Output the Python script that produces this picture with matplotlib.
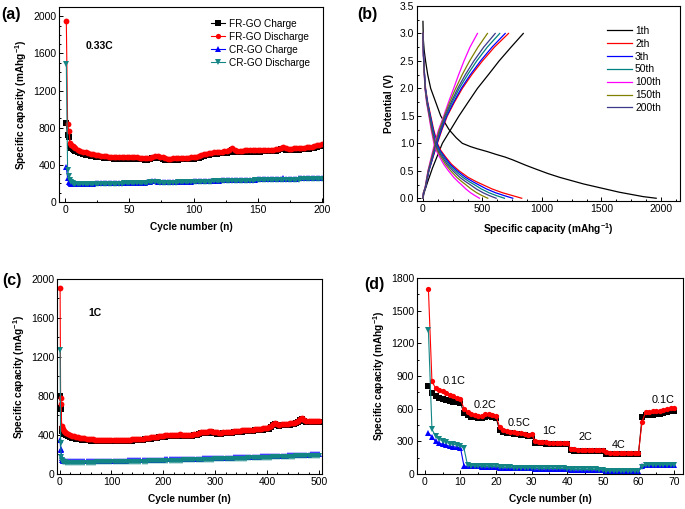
import matplotlib
matplotlib.use("Agg")
import matplotlib.pyplot as plt
from matplotlib.ticker import MultipleLocator, FormatStrFormatter

plt.rcParams['font.family'] = ['Liberation Sans', 'DejaVu Sans']
plt.rcParams['mathtext.fontset'] = 'custom'
plt.rcParams['mathtext.rm'] = 'Liberation Sans'
plt.rcParams['mathtext.bf'] = 'Liberation Sans:bold'

# ---------------- (a) 0.33C cycling ----------------
cycles_a = [1, 2, 3, 4, 5, 6, 7, 8] + list(range(10, 201, 2))
fr_dis_a = [1950, 835, 760, 640, 612, 598, 588, 578,
            565, 552, 542, 534, 527, 520, 514, 509, 504, 500,
            496, 493, 490, 488, 486, 484, 483, 482, 483, 485,
            486, 484, 482, 480, 478, 476, 474, 473, 478, 490,
            495, 492, 488, 484, 475, 468, 468, 470, 472, 473,
            475, 476, 476, 478, 480, 482, 488, 495, 505, 512,
            520, 528, 532, 535, 537, 540, 542, 545, 548, 560,
            578, 560, 552, 552, 553, 555, 556, 557, 558, 560,
            560, 560, 561, 562, 563, 564, 565, 567, 572, 586,
            590, 580, 575, 576, 578, 580, 582, 584, 586, 588,
            590, 595, 602, 610, 618, 622]
fr_chg_a = [850, 718, 705, 600, 580, 566, 556, 548,
            538, 526, 517, 510, 503, 497, 492, 488, 484, 480,
            477, 474, 472, 470, 468, 466, 465, 464, 465, 467,
            468, 466, 464, 462, 460, 458, 456, 455, 460, 472,
            477, 474, 470, 466, 457, 451, 451, 453, 455, 456,
            458, 459, 459, 461, 463, 465, 471, 478, 488, 495,
            503, 511, 515, 518, 520, 523, 525, 528, 531, 543,
            560, 543, 535, 535, 536, 538, 539, 540, 541, 543,
            543, 543, 544, 545, 546, 547, 548, 550, 555, 568,
            572, 563, 558, 559, 561, 563, 565, 567, 569, 571,
            573, 578, 585, 592, 600, 604]
cr_chg_a = [380, 255, 215, 200, 198, 197, 196, 196,
            196, 197, 197, 198, 198, 199, 199, 200, 200, 201,
            201, 202, 202, 203, 203, 204, 204, 205, 205, 206,
            207, 207, 208, 208, 209, 209, 210, 212, 218, 226,
            222, 218, 215, 214, 214, 215, 215, 216, 216, 217,
            218, 218, 219, 220, 220, 221, 222, 223, 224, 225,
            226, 227, 228, 229, 230, 231, 232, 233, 234, 235,
            236, 236, 237, 238, 238, 239, 240, 240, 241, 242,
            243, 243, 244, 245, 245, 246, 247, 248, 249, 252,
            254, 252, 251, 252, 253, 253, 254, 255, 256, 257,
            258, 259, 260, 261, 262, 263]
cr_dis_a = [1490, 340, 282, 232, 212, 202, 198, 195,
            193, 193, 193, 194, 194, 194, 195, 195, 195, 196,
            196, 196, 197, 197, 198, 198, 199, 199, 200, 200,
            201, 201, 202, 202, 203, 203, 204, 206, 212, 220,
            216, 212, 209, 208, 208, 209, 209, 210, 210, 211,
            211, 212, 212, 213, 213, 214, 215, 215, 216, 217,
            218, 219, 220, 221, 222, 222, 223, 224, 225, 226,
            227, 227, 228, 228, 229, 229, 230, 230, 231, 232,
            232, 233, 233, 234, 235, 235, 236, 237, 238, 240,
            242, 241, 240, 240, 241, 241, 242, 243, 243, 244,
            245, 246, 247, 248, 249, 250]

# ---------------- (b) charge/discharge profiles ----------------
cycle_names = ['1th', '2th', '3th', '50th', '100th', '150th', '200th']
cycle_colors = ['#000000', '#ff0000', '#0000ff', '#008080', '#ff00ff', '#808000', '#3a3a88']

dis_v = [3.0, 2.6, 2.3, 2.0, 1.75, 1.5, 1.25, 1.0, 0.87, 0.75, 0.62, 0.5, 0.38, 0.3, 0.25, 0.17, 0.1, 0.05, 0.0]
chg_v = [0.0, 0.1, 0.2, 0.5, 0.75, 1.0, 1.25, 1.5, 1.75, 2.0, 2.25, 2.5, 2.75, 3.0]

dis1_cap = [0, 3, 10, 22, 40, 65, 107, 149, 219, 280, 331, 400, 458, 540, 612, 690, 753, 865, 950,
            1050, 1150, 1250, 1350, 1450, 1550, 1650, 1750, 1850, 1960]
dis1_v = [3.22, 2.9, 2.7, 2.5, 2.25, 2.0, 1.75, 1.5, 1.25, 1.1, 1.0, 0.94, 0.9, 0.85, 0.8, 0.75, 0.7, 0.6, 0.53,
          0.45, 0.38, 0.32, 0.26, 0.21, 0.16, 0.11, 0.07, 0.03, 0.0]
chg1_cap = [0, 10, 40, 80, 163, 233, 303, 380, 458, 550, 640, 740, 843]
chg1_v = [0.0, 0.1, 0.3, 0.55, 1.0, 1.25, 1.5, 1.75, 2.0, 2.25, 2.5, 2.75, 3.0]

dis_cap = {
    '2th':   [0, 5, 12, 22, 40, 65, 90, 121, 150, 191, 240, 303, 380, 450, 500, 580, 669, 750, 830],
    '3th':   [0, 5, 12, 21, 38, 62, 86, 116, 143, 182, 228, 287, 358, 420, 463, 533, 610, 680, 755],
    '50th':  [0, 5, 11, 20, 36, 59, 82, 110, 136, 172, 215, 270, 335, 390, 430, 490, 555, 615, 685],
    '100th': [0, 4, 10, 17, 30, 50, 69, 92, 112, 140, 174, 214, 259, 296, 322, 360, 400, 436, 475],
    '150th': [0, 4, 10, 18, 32, 53, 73, 98, 120, 151, 188, 233, 285, 328, 358, 404, 452, 495, 545],
    '200th': [0, 4, 11, 19, 34, 56, 78, 104, 128, 162, 202, 252, 310, 360, 395, 448, 505, 556, 615],
}
chg_cap = {
    '2th':   [0, 5, 22, 50, 85, 121, 160, 205, 265, 331, 410, 500, 600, 719],
    '3th':   [0, 5, 22, 50, 84, 118, 156, 200, 258, 322, 398, 484, 580, 691],
    '50th':  [0, 5, 21, 48, 80, 113, 150, 192, 246, 305, 375, 452, 540, 645],
    '100th': [0, 4, 18, 42, 70, 98, 132, 175, 215, 258, 300, 345, 395, 458],
    '150th': [0, 4, 19, 44, 74, 104, 138, 180, 225, 275, 330, 392, 462, 542],
    '200th': [0, 5, 20, 46, 78, 110, 146, 186, 237, 292, 356, 428, 510, 607],
}

# ---------------- (c) 1C cycling ----------------
cycles_c = [1, 2, 3, 4, 5, 6, 8, 10] + list(range(12, 501, 4))
fr_dis_c = [1905, 780, 720, 490, 470, 455, 440, 430,
            420, 408, 398, 390, 384, 378, 373, 369, 365, 362,
            359, 357, 355, 353, 351, 349, 348, 347, 346, 345,
            344, 344, 344, 345, 345, 346, 347, 347, 348, 349,
            350, 351, 352, 353, 355, 357, 359, 361, 363, 366,
            369, 372, 375, 378, 381, 385, 388, 391, 393, 395,
            397, 399, 400, 401, 402, 403, 402, 401, 400, 399,
            398, 400, 405, 412, 420, 425, 428, 430, 432, 434,
            435, 433, 428, 424, 422, 423, 425, 427, 429, 431,
            433, 436, 438, 440, 442, 444, 446, 448, 450, 452,
            454, 456, 458, 460, 462, 465, 468, 470, 475, 490,
            510, 518, 508, 505, 507, 510, 512, 514, 516, 518,
            522, 528, 540, 565, 570, 555, 545, 540, 538, 538,
            540, 541, 542]
fr_chg_c = [800, 670, 660, 460, 440, 425, 412, 404,
            395, 385, 377, 370, 365, 360, 356, 352, 349, 346,
            344, 342, 340, 339, 338, 337, 336, 335, 334, 333,
            333, 333, 333, 334, 334, 335, 336, 336, 337, 338,
            339, 340, 341, 342, 344, 346, 348, 350, 352, 355,
            358, 361, 364, 367, 370, 374, 377, 380, 382, 384,
            386, 388, 389, 390, 391, 392, 391, 390, 389, 388,
            387, 389, 394, 401, 409, 414, 417, 419, 421, 423,
            424, 422, 417, 413, 411, 412, 414, 416, 418, 420,
            422, 425, 427, 429, 431, 433, 435, 437, 439, 441,
            443, 445, 447, 449, 451, 454, 457, 459, 464, 479,
            499, 507, 497, 494, 496, 499, 501, 503, 505, 507,
            511, 517, 529, 554, 559, 544, 534, 529, 527, 527,
            529, 530, 531]
cr_chg_c = [350, 250, 240, 160, 140, 135, 132, 130,
            130, 130, 129, 129, 129, 129, 129, 129, 129, 129,
            130, 130, 130, 130, 130, 131, 131, 131, 131, 132,
            132, 132, 133, 133, 133, 134, 134, 135, 135, 135,
            136, 136, 137, 137, 138, 138, 139, 139, 140, 140,
            141, 141, 142, 143, 143, 144, 144, 145, 146, 146,
            147, 147, 148, 149, 149, 150, 150, 151, 152, 152,
            153, 153, 154, 155, 155, 156, 157, 157, 158, 159,
            159, 160, 161, 161, 162, 163, 163, 164, 165, 166,
            166, 167, 168, 168, 169, 170, 171, 171, 172, 173,
            174, 174, 175, 176, 177, 178, 178, 179, 180, 181,
            182, 183, 183, 184, 185, 186, 187, 188, 189, 190,
            191, 192, 193, 194, 195, 195, 196, 197, 198, 199,
            199, 200, 200]
cr_dis_c = [1270, 320, 170, 140, 128, 122, 118, 116,
            115, 115, 114, 114, 114, 114, 114, 114, 114, 114,
            115, 115, 115, 115, 115, 116, 116, 116, 116, 117,
            117, 117, 118, 118, 118, 119, 119, 120, 120, 120,
            121, 121, 122, 122, 123, 123, 124, 124, 125, 125,
            126, 126, 127, 128, 128, 129, 129, 130, 131, 131,
            132, 132, 133, 134, 134, 135, 135, 136, 137, 137,
            138, 138, 139, 140, 140, 141, 142, 142, 143, 144,
            144, 145, 146, 146, 147, 148, 148, 149, 150, 151,
            151, 152, 153, 153, 154, 155, 156, 156, 157, 158,
            159, 159, 160, 161, 162, 163, 163, 164, 165, 166,
            167, 168, 168, 169, 170, 171, 172, 173, 174, 175,
            176, 177, 178, 179, 180, 180, 181, 182, 183, 184,
            184, 185, 185]

# ---------------- (d) rate capability ----------------
cycles_d = list(range(1, 71))
fr_dis_d = [1700, 850, 790, 775, 760, 745, 730, 715, 700, 690,
            600, 570, 550, 540, 535, 535, 550, 548, 542, 535,
            430, 400, 395, 390, 385, 378, 372, 368, 362, 365,
            300, 292, 290, 290, 288, 288, 287, 287, 286, 285,
            232, 226, 225, 225, 225, 224, 224, 224, 224, 223,
            198, 196, 196, 195, 195, 195, 195, 195, 195, 195,
            480, 568, 572, 574, 575, 578, 590, 598, 605, 605]
fr_chg_d = [810, 740, 715, 700, 690, 680, 672, 665, 660, 655,
            560, 540, 528, 520, 515, 515, 528, 530, 525, 518,
            400, 385, 380, 375, 370, 364, 358, 354, 350, 352,
            286, 282, 281, 280, 279, 279, 278, 278, 277, 276,
            216, 215, 215, 214, 214, 214, 214, 213, 213, 213,
            186, 186, 185, 185, 185, 185, 185, 185, 185, 185,
            520, 540, 545, 546, 548, 550, 562, 572, 578, 580]
cr_chg_d = [375, 340, 300, 285, 272, 262, 256, 250, 246, 242,
            72, 70, 70, 69, 69, 68, 68, 67, 67, 66,
            58, 57, 57, 56, 56, 55, 55, 55, 54, 54,
            50, 50, 49, 49, 49, 48, 48, 48, 47, 47,
            40, 40, 40, 39, 39, 39, 39, 38, 38, 38,
            28, 28, 27, 27, 27, 27, 26, 26, 26, 26,
            75, 80, 80, 80, 80, 80, 80, 80, 80, 80]
cr_dis_d = [1320, 410, 350, 320, 302, 290, 280, 272, 266, 260,
            235, 80, 76, 75, 74, 73, 72, 72, 71, 70,
            62, 61, 60, 60, 59, 59, 58, 58, 58, 57,
            54, 53, 53, 52, 52, 52, 51, 51, 51, 50,
            44, 43, 43, 43, 42, 42, 42, 42, 41, 41,
            32, 31, 31, 31, 30, 30, 30, 30, 30, 30,
            62, 85, 86, 86, 86, 86, 86, 86, 86, 86]
rate_labels = ['0.1C', '0.2C', '0.5C', '1C', '2C', '4C', '0.1C']
rate_label_x = [8.2, 16.8, 26.4, 35.0, 45.0, 54.4, 66.8]
rate_label_y = [850, 635, 470, 392, 340, 262, 676]

series_labels = ['FR-GO Charge', 'FR-GO Discharge', 'CR-GO Charge', 'CR-GO Discharge']
series_colors = ['#000000', '#ff0000', '#0000ff', '#138585']
series_markers = ['s', 'o', '^', 'v']

TICK_FS = 7.5
LABEL_FS = 7.3

fig = plt.figure(figsize=(6.85, 5.09), dpi=100)
W, H = 685.0, 509.0

def add_ax(l, t, r, b):
    return fig.add_axes([l / W, 1 - b / H, (r - l) / W, (b - t) / H])

ax_a = add_ax(59, 7, 323, 202)
ax_b = add_ax(417, 6, 680, 201)
ax_c = add_ax(57.5, 279, 321.5, 474)
ax_d = add_ax(417, 278, 683, 474)

def style(ax):
    ax.tick_params(which='both', direction='in', labelsize=TICK_FS, pad=2,
                   top=False, right=False, width=0.7)
    ax.tick_params(which='major', length=3)
    ax.tick_params(which='minor', length=1.6)
    for s in ax.spines.values():
        s.set_linewidth(0.8)

def plot_series(ax, x, ys, ms=4.2):
    for y, lab, col, mk in zip(ys, series_labels, series_colors, series_markers):
        ax.plot(x, y, color=col, marker=mk, markersize=ms, markeredgewidth=0,
                linewidth=0.8, label=lab)

# (a)
plot_series(ax_a, cycles_a, [fr_chg_a, fr_dis_a, cr_chg_a, cr_dis_a])
ax_a.set_xlim(-4.7, 200.8)
ax_a.set_ylim(0, 2100)
ax_a.xaxis.set_major_locator(MultipleLocator(50))
ax_a.xaxis.set_minor_locator(MultipleLocator(25))
ax_a.yaxis.set_major_locator(MultipleLocator(400))
ax_a.yaxis.set_minor_locator(MultipleLocator(100))
style(ax_a)
ax_a.set_xlabel('Cycle number (n)', fontsize=LABEL_FS, fontweight='bold', labelpad=5)
ax_a.set_ylabel(r'Specific capacity (mAhg$^{\mathbf{-1}}$)', fontsize=LABEL_FS, fontweight='bold', labelpad=3)
ax_a.text(27, 1680, '0.33C', fontsize=7.5, fontweight='bold', ha='center', va='center')
ax_a.legend(loc='upper left', bbox_to_anchor=(0.55, 0.975), frameon=False, fontsize=7.2,
            handlelength=1.4, handletextpad=0.35, labelspacing=0.3, borderaxespad=0.3,
            markerscale=0.9)

# (b)
ax_b.plot(dis1_cap, dis1_v, color=cycle_colors[0], linewidth=0.9, label=cycle_names[0])
ax_b.plot(chg1_cap, chg1_v, color=cycle_colors[0], linewidth=0.9)
for name, col in zip(cycle_names[1:], cycle_colors[1:]):
    ax_b.plot(dis_cap[name], dis_v, color=col, linewidth=0.9, label=name)
    ax_b.plot(chg_cap[name], chg_v, color=col, linewidth=0.9)
ax_b.set_xlim(-50, 2160)
ax_b.set_ylim(-0.05, 3.5)
ax_b.xaxis.set_major_locator(MultipleLocator(500))
ax_b.xaxis.set_minor_locator(MultipleLocator(125))
ax_b.yaxis.set_major_locator(MultipleLocator(0.5))
ax_b.yaxis.set_minor_locator(MultipleLocator(0.25))
ax_b.yaxis.set_major_formatter(FormatStrFormatter('%.1f'))
style(ax_b)
ax_b.set_xlabel(r'Specific capacity (mAhg$^{\mathbf{-1}}$)', fontsize=LABEL_FS, fontweight='bold', labelpad=5)
ax_b.set_ylabel('Potential (V)', fontsize=LABEL_FS, fontweight='bold', labelpad=4)
ax_b.legend(loc='upper left', bbox_to_anchor=(0.7, 0.93), frameon=False, fontsize=7.4,
            handlelength=2.4, handletextpad=0.3, labelspacing=0.28, borderaxespad=0.2)

# (c)
plot_series(ax_c, cycles_c, [fr_chg_c, fr_dis_c, cr_chg_c, cr_dis_c])
ax_c.set_xlim(-4, 505)
ax_c.set_ylim(-3, 2000)
ax_c.xaxis.set_major_locator(MultipleLocator(100))
ax_c.xaxis.set_minor_locator(MultipleLocator(20))
ax_c.yaxis.set_major_locator(MultipleLocator(400))
ax_c.yaxis.set_minor_locator(MultipleLocator(200))
style(ax_c)
ax_c.set_xlabel('Cycle number (n)', fontsize=LABEL_FS, fontweight='bold', labelpad=5)
ax_c.set_ylabel(r'Specific capacity (mAg$^{\mathbf{-1}}$)', fontsize=LABEL_FS, fontweight='bold', labelpad=3)
ax_c.text(69, 1650, '1C', fontsize=7.5, fontweight='bold', ha='center', va='center')

# (d)
plot_series(ax_d, cycles_d, [fr_chg_d, fr_dis_d, cr_chg_d, cr_dis_d], ms=3.8)
ax_d.set_xlim(-2.2, 72.5)
ax_d.set_ylim(0, 1800)
ax_d.xaxis.set_major_locator(MultipleLocator(10))
ax_d.xaxis.set_minor_locator(MultipleLocator(5))
ax_d.yaxis.set_major_locator(MultipleLocator(300))
ax_d.yaxis.set_minor_locator(MultipleLocator(150))
style(ax_d)
ax_d.set_xlabel('Cycle number (n)', fontsize=LABEL_FS, fontweight='bold', labelpad=5)
ax_d.set_ylabel(r'Specific capacity (mAhg$^{\mathbf{-1}}$)', fontsize=LABEL_FS, fontweight='bold', labelpad=3)
for lab, x, y in zip(rate_labels, rate_label_x, rate_label_y):
    ax_d.text(x, y, lab, fontsize=7.8, ha='center', va='center')

# panel labels
for txt, x, y in [('(a)', 11, 15), ('(b)', 367, 15), ('(c)', 12, 281), ('(d)', 374, 285)]:
    fig.text(x / W, 1 - y / H, txt, fontsize=11.5, fontweight='bold', ha='center', va='center')

fig.savefig('out.png', dpi=100)
